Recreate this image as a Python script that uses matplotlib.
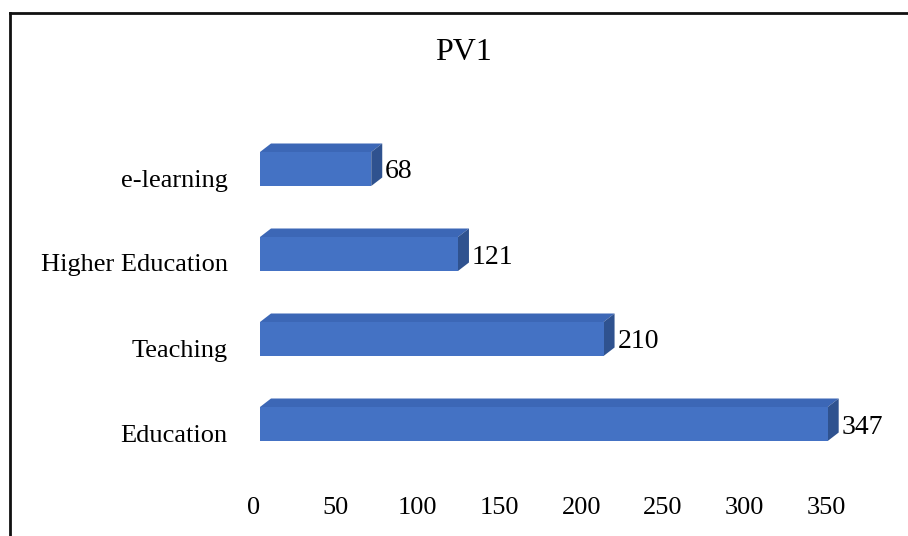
import matplotlib
matplotlib.use("Agg")
import matplotlib.pyplot as plt
import matplotlib.patches as patches
from matplotlib.lines import Line2D
from matplotlib.transforms import offset_copy

categories = ["Education", "Teaching", "Higher Education", "e-learning"]
values = [347, 210, 121, 68]
xticks = [0, 50, 100, 150, 200, 250, 300, 350]
title = "PV1"

W, H = 908, 536
FRONT = "#4472C4"
TOP = "#3C67B6"
SIDE = "#2F528F"

plt.rcParams["font.family"] = ["Liberation Serif", "DejaVu Serif"]

fig = plt.figure(figsize=(W / 100, H / 100), dpi=100)
fig.patch.set_facecolor("white")

# axes placed in pixel terms: x=0 at 254px, y categories 85px apart
left_px, right_px = 254, 254 + 380 * 1.636
top_px, bot_px = 127, 484
ax = fig.add_axes([left_px / W, 1 - bot_px / H, (right_px - left_px) / W, (bot_px - top_px) / H])
ax.set_xlim(0, 380)
ax.set_ylim(-0.6, 3.6)
for s in ax.spines.values():
    s.set_visible(False)
ax.set_facecolor("none")

ax.set_xticks(xticks)
ax.set_xticklabels([str(t) for t in xticks])
ax.set_yticks(range(len(categories)))
ax.set_yticklabels(categories)
ax.tick_params(axis="x", length=0, pad=9, labelsize=19)
ax.tick_params(axis="y", length=0, pad=19, labelsize=19)

# 3D look: front face shifted up/right, depth goes up/right
front_tr = offset_copy(ax.transData, fig=fig, x=6, y=9, units="dots")
px_x = (ax.transData.transform((1, 0)) - ax.transData.transform((0, 0)))[0]
px_y = (ax.transData.transform((0, 1)) - ax.transData.transform((0, 0)))[1]
dx = 11 / px_x
dy = 8.5 / px_y
bh = 0.4

for i, v in enumerate(values):
    y0, y1 = i - bh / 2, i + bh / 2
    top = patches.Polygon([(0, y1), (v, y1), (v + dx, y1 + dy), (dx, y1 + dy)],
                          closed=True, facecolor=TOP, edgecolor="none", transform=front_tr)
    side = patches.Polygon([(v, y0), (v + dx, y0 + dy), (v + dx, y1 + dy), (v, y1)],
                           closed=True, facecolor=SIDE, edgecolor="none", transform=front_tr)
    front = patches.Rectangle((0, y0), v, bh, facecolor=FRONT, edgecolor="none",
                              transform=front_tr)
    ax.add_patch(top)
    ax.add_patch(side)
    ax.add_patch(front)
    lbl_tr = offset_copy(ax.transData, fig=fig, x=6 + 11 + 3, y=6, units="dots")
    ax.text(v, i, str(v), transform=lbl_tr, ha="left", va="center",
            fontsize=20, color="black")

fig.text(463 / W, 1 - 53 / H, title, ha="center", va="center", fontsize=23, color="black")

# chart border (left and top edges visible in the crop)
fig.add_artist(Line2D([10 / W, 10 / W], [0, 1 - 13 / H], transform=fig.transFigure,
                      color="#111111", linewidth=2))
fig.add_artist(Line2D([10 / W, 1], [1 - 13 / H, 1 - 13 / H], transform=fig.transFigure,
                      color="#111111", linewidth=2))

fig.savefig("out.png", dpi=100, facecolor="white")
